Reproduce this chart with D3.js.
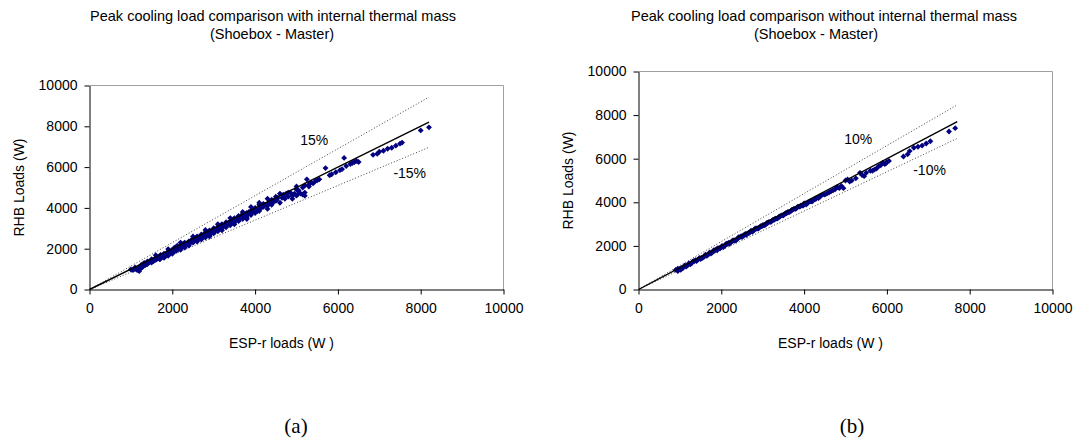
<!DOCTYPE html>
<html>
<head>
<meta charset="utf-8">
<script src="https://cdn.jsdelivr.net/npm/d3@7"></script>
<style>
  body { margin: 0; background: #fff; }
  svg text { font-family: Arial, "Liberation Sans", sans-serif; fill: #000; }
</style>
</head>
<body>
<div id="chart"></div>
<script>
// tick values shared by both panels
var ticks = [0, 2000, 4000, 6000, 8000, 10000];

// panel (a): with internal thermal mass, [ESP-r, RHB]
var massA = [
  [1000,980],[1050,950],[1100,1000],[1150,1020],[1200,900],[1200,1080],[1250,1050],[1300,1150],
  [1300,1250],[1350,1200],[1400,1280],[1450,1350],[1400,1380],[1500,1320],[1550,1400],[1500,1480],
  [1600,1450],[1600,1550],[1650,1600],[1700,1500],[1700,1650],[1750,1600],[1800,1750],[1800,1550],
  [1850,1700],[1900,1850],[1900,1650],[1950,1800],[2000,1950],[2000,1750],[2050,2050],[2100,1900],
  [2100,2100],[2150,2000],[2200,2150],[2200,1950],[2250,2200],[2300,2100],[2300,2300],[2350,2250],
  [2400,2150],[2400,2350],[2450,2400],[2500,2300],[2500,2450],[2550,2500],[2600,2400],[2600,2600],
  [2650,2550],[2700,2450],[2700,2700],[2750,2650],[2800,2550],[2800,2800],[2850,2750],[2900,2650],
  [2900,2900],[2950,2850],[3000,2750],[3000,3000],[3050,2900],[3100,3050],[3100,2850],[3150,3100],
  [3200,3000],[3200,3200],[3250,3150],[3300,3050],[3300,3300],[3350,3250],[3400,3150],[3400,3350],
  [3450,3400],[3500,3300],[3500,3500],[3550,3450],[3600,3350],[3600,3600],[3650,3550],[3700,3450],
  [3700,3700],[3750,3600],[3800,3500],[3800,3750],[3850,3800],[3900,3650],[3900,3850],[3950,3900],
  [4000,3750],[4000,4000],[4100,3950],[4100,4150],[4200,4050],[4200,4200],[4300,4100],[4350,4300],
  [4400,4150],[4400,4400],[4500,4350],[4550,4500],[4600,4250],[4700,4550],[4750,4700],[4800,4550],
  [4850,4750],[4900,4600],[4950,4700],[5000,4900],[5050,4850],[5100,4700],[5150,5000],[5200,5100],
  [5250,5400],[5300,5150],[5350,5250],[5400,5200],[5450,5300],[5500,5350],[5550,5400],[5700,5950],
  [5800,5600],[5850,5650],[5950,5750],[6050,5850],[6100,5900],[6150,6450],[6200,6050],[6300,6150],
  [6350,6200],[6400,6250],[6450,6300],[6500,6250],[6850,6600],[6950,6650],[7000,6750],[7100,6800],
  [7200,6900],[7300,6950],[7400,7050],[7500,7150],[7550,7200],[8000,7800],[8200,7950],
  [1100,1080],[1150,950],[1250,1200],[1280,1100],[1320,1300],[1380,1250],[1420,1320],[1480,1420],
  [1520,1380],[1580,1500],[1620,1480],[1680,1580],[1720,1700],[1780,1680],[1820,1620],[1880,1780],
  [1920,1900],[1980,1880],[2020,1820],[2080,2000],[2120,2150],[2180,2080],[2220,2050],[2280,2250],
  [2320,2200],[2380,2300],[2420,2250],[2480,2400],[2520,2350],[2580,2550],[2620,2500],[2680,2600],
  [2720,2550],[2780,2750],[2820,2700],[2880,2800],[2920,2750],[2980,2900],[3020,2850],[3080,3000],
  [3120,2950],[3180,3150],[3220,3100],[3280,3200],[3320,3150],[3380,3300],[3420,3250],[3480,3400],
  [3520,3400],[3580,3500],[3620,3450],[3680,3600],[3720,3550],[3780,3700],[3820,3650],[3880,3750],
  [3920,3750],[3980,3900],[4050,3850],[4150,4000],[4250,4150],[4320,4200],[4450,4300],[4520,4400],
  [4650,4500],[4720,4450],[4680,4650],[4800,4750],[5000,4600],[5050,4700],[5150,4650],[5200,4750],
  [5300,5050],[5000,5050],
  [1600,1680],[1900,1980],[2200,2300],[2500,2600],[2800,2920],[3100,3200],[3400,3500],[3700,3800],
  [3900,4050],[4100,4250],[4300,4450],[4500,4550],[4600,4700],
  [1400,1250],[1700,1480],[2000,1800],[2300,2050],[2600,2350],[2900,2600],[3200,2900],[3500,3200],
  [3800,3450],[4100,3850],[4300,3950],[4900,4450],[5200,4600]
];
var fitA = 8200;          // end of the 1:1 line
var bandA = 0.15;         // +/- band
var bandLabelsA = [["15%", 5090, 7080], ["-15%", 7340, 5460]];

// panel (b): without internal thermal mass
var massB = [
  [900,900],[950,850],[1000,950],[1050,1000],[1100,1050],[1150,1050],[1200,1150],[1250,1150],
  [1300,1250],[1350,1300],[1400,1300],[1450,1400],[1500,1400],[1550,1450],[1600,1550],[1650,1550],
  [1700,1650],[1750,1650],[1800,1750],[1850,1800],[1900,1800],[1950,1900],[2000,1950],[2050,1950],
  [2100,2050],[2150,2100],[2200,2100],[2250,2200],[2300,2250],[2350,2250],[2400,2350],[2450,2400],
  [2500,2400],[2550,2500],[2600,2500],[2650,2600],[2700,2650],[2750,2650],[2800,2750],[2850,2800],
  [2900,2800],[2950,2900],[3000,2950],[3050,2950],[3100,3050],[3150,3100],[3200,3100],[3250,3200],
  [3300,3250],[3350,3250],[3400,3350],[3450,3400],[3500,3400],[3550,3500],[3600,3550],[3650,3550],
  [3700,3650],[3750,3700],[3800,3700],[3850,3800],[3900,3800],[3950,3850],[4000,3950],[4050,3900],
  [4100,4000],[4150,4050],[4200,4050],[4250,4150],[4300,4200],[4350,4200],[4400,4300],[4450,4350],
  [4500,4350],[4600,4450],[4700,4550],[4800,4700],[4900,4750],[4950,4650],[5000,5000],[5050,5050],
  [5150,5000],[5250,5100],[5350,5350],[5450,5200],[5600,5450],[5700,5500],[5800,5650],[5900,5800],
  [5950,5750],[6000,5850],[6050,5900],[6400,6100],[6500,6200],[6550,6350],[6650,6500],[6750,6550],
  [6850,6600],[6950,6700],[7050,6800],[7500,7250],[7650,7400],
  [950,950],[1020,900],[1080,1000],[1120,1100],[1180,1100],[1220,1200],[1280,1200],[1320,1300],
  [1380,1350],[1420,1350],[1480,1450],[1520,1450],[1580,1500],[1620,1600],[1680,1600],[1720,1700],
  [1780,1700],[1820,1800],[1880,1850],[1920,1900],[1980,1900],[2020,2000],[2080,2000],[2120,2100],
  [2180,2150],[2220,2150],[2280,2250],[2320,2250],[2380,2300],[2420,2400],[2480,2450],[2520,2450],
  [2580,2550],[2620,2550],[2680,2600],[2720,2700],[2780,2700],[2820,2800],[2880,2800],[2920,2850],
  [2980,2900],[3020,2950],[3080,3000],[3120,3050],[3180,3100],[3220,3150],[3280,3200],[3320,3250],
  [3380,3300],[3420,3350],[3480,3400],[3520,3450],[3580,3500],[3620,3550],[3680,3600],[3720,3650],
  [3780,3700],[3820,3750],[3880,3800],[3920,3850],[3980,3850],[4020,3950],[4080,3950],[4180,4050],
  [4280,4150],[4380,4250],[4550,4400],[4650,4500],[4750,4600],[4850,4650],[5100,4950],[5400,5250],
  [5500,5350],[5650,5450],[5750,5550],[5850,5700],[5980,5800]
];
var fitB = 7700;
var bandB = 0.10;
var bandLabelsB = [["10%", 4970, 6680], ["-10%", 6635, 5250]];

var W = 1076, H = 446;
var svg = d3.select("#chart").append("svg")
    .attr("width", W).attr("height", H);

function panel(opt) {
  var x = d3.scaleLinear().domain([0, 10000]).range([0, opt.w]);
  var y = d3.scaleLinear().domain([0, 10000]).range([opt.h, 0]);
  var g = svg.append("g").attr("transform", "translate(" + opt.left + "," + opt.top + ")");

  // plot area border (top and right are grey)
  g.append("path")
    .attr("d", "M0,0H" + opt.w + "V" + opt.h)
    .attr("fill", "none").attr("stroke", "#a0a0a0").attr("stroke-width", 1);

  var xa = g.append("g").attr("transform", "translate(0," + opt.h + ")")
    .call(d3.axisBottom(x).tickValues(ticks).tickSize(5).tickSizeOuter(0).tickPadding(9).tickFormat(d3.format("d")));
  var ya = g.append("g")
    .call(d3.axisLeft(y).tickValues(ticks).tickSize(5).tickSizeOuter(0).tickPadding(7).tickFormat(d3.format("d")));
  [xa, ya].forEach(function(a) {
    a.selectAll("text").style("font-size", "14px").style("font-family", "Arial, 'Liberation Sans', sans-serif").attr("fill", "#000");
    a.selectAll("line, path").attr("stroke", "#000");
  });

  // +/- band lines
  [1 + opt.band, 1 - opt.band].forEach(function(k) {
    g.append("line")
      .attr("x1", x(0)).attr("y1", y(0))
      .attr("x2", x(opt.fit)).attr("y2", y(opt.fit * k))
      .attr("stroke", "#444").attr("stroke-width", 1)
      .attr("stroke-dasharray", "1,2");
  });

  // points
  var diamond = d3.symbol().type(d3.symbolDiamond2).size(22);
  g.append("g").selectAll("path")
    .data(opt.data).enter().append("path")
      .attr("d", diamond)
      .attr("transform", function(d) { return "translate(" + x(d[0]) + "," + y(d[1]) + ")"; })
      .attr("fill", "#000080");

  // 1:1 line
  g.append("line")
    .attr("x1", x(0)).attr("y1", y(0))
    .attr("x2", x(opt.fit)).attr("y2", y(opt.fit))
    .attr("stroke", "#000").attr("stroke-width", 1.4);

  g.selectAll(".band-label").data(opt.labels).enter().append("text")
    .attr("x", function(d) { return x(d[1]); })
    .attr("y", function(d) { return y(d[2]); })
    .style("font-size", "14px")
    .text(function(d) { return d[0]; });

  // titles and axis labels
  svg.append("text").attr("x", opt.titleX).attr("y", 21)
    .attr("text-anchor", "middle").style("font-size", "14.5px").text(opt.title);
  svg.append("text").attr("x", opt.titleX2).attr("y", 39)
    .attr("text-anchor", "middle").style("font-size", "14.5px").text("(Shoebox - Master)");
  svg.append("text").attr("x", opt.left + opt.w / 2 - 15).attr("y", 348)
    .attr("text-anchor", "middle").style("font-size", "14px").text("ESP-r loads (W )");
  svg.append("text")
    .attr("transform", "translate(" + (opt.left - 66) + "," + (opt.top + opt.h / 2) + ") rotate(-90)")
    .attr("text-anchor", "middle").style("font-size", "14px").text("RHB Loads (W)");
  svg.append("text").attr("x", opt.capX).attr("y", 433)
    .attr("text-anchor", "middle")
    .style("font-family", "'Times New Roman', 'Liberation Serif', serif").style("font-size", "21px")
    .text(opt.cap);
}

panel({ left: 89.5, top: 85.5, w: 414, h: 204, data: massA, fit: fitA, band: bandA, labels: bandLabelsA,
        title: "Peak cooling load comparison with internal thermal mass", titleX: 273, titleX2: 272, cap: "(a)", capX: 296 });
panel({ left: 638.5, top: 71.5, w: 414, h: 218, data: massB, fit: fitB, band: bandB, labels: bandLabelsB,
        title: "Peak cooling load comparison without internal thermal mass", titleX: 824, titleX2: 816, cap: "(b)", capX: 852 });
</script>
</body>
</html>
